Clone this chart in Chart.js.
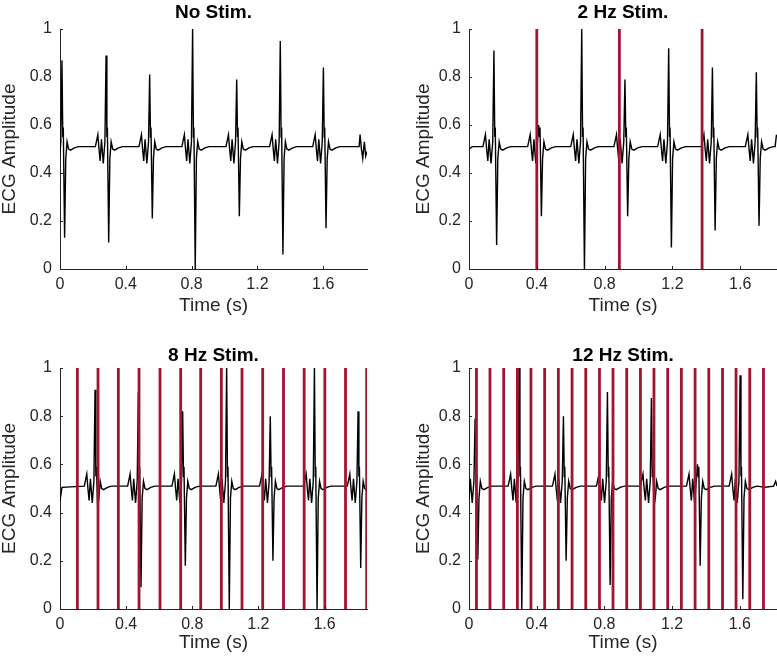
<!DOCTYPE html>
<html>
<head>
<meta charset="utf-8">
<script src="https://cdn.jsdelivr.net/npm/chart.js@4.4.0/dist/chart.umd.min.js"></script>
<style>
    html, body { margin: 0; padding: 0; background: #fff; }
    body { width: 777px; height: 660px; position: relative; overflow: hidden; }
    .panel { position: absolute; }
    .panel canvas { display: block; }
</style>
</head>
<body>
<div class="panel" style="left:0;top:0"><canvas id="noStimChart" width="388" height="330"></canvas></div>
<div class="panel" style="left:409px;top:0"><canvas id="stim2Chart" width="368" height="330"></canvas></div>
<div class="panel" style="left:0;top:330px"><canvas id="stim8Chart" width="388" height="330"></canvas></div>
<div class="panel" style="left:409px;top:330px"><canvas id="stim12Chart" width="368" height="330"></canvas></div>

<script>
const xTickValues = [0, 0.4, 0.8, 1.2, 1.6];
const yTickValues = [0, 0.2, 0.4, 0.6, 0.8, 1];

// QRS shape around each R peak: time offset (s) and level, R and S filled per beat
const qrsOffsets = [-0.065, -0.050, -0.043, -0.036, -0.028, -0.017, -0.007, 0, 0.005, 0.008, 0.016, 0.023, 0.031, 0.040, 0.052, 0.075, 0.100];
const qrsLevels = [0.51, 0.56, 0.50, 0.45, 0.54, 0.44, 0.53, null, 0.55, 0.59, null, 0.46, 0.53, 0.50, 0.495, 0.505, 0.51];
const qrsPeakIndex = 7;
const qrsTroughIndex = 10;

// No Stim.
const noStimBeats = [0.012, 0.280, 0.545, 0.806, 1.074, 1.339, 1.601];
const noStimPeaks = [0.87, 0.89, 0.81, 1.00, 0.79, 0.95, 0.84];
const noStimTroughs = [0.13, 0.11, 0.21, 0.00, 0.22, 0.06, 0.17];
const noStimLead = [];
const noStimTail = [[1.805, 0.51], [1.818, 0.51], [1.824, 0.56], [1.832, 0.50], [1.840, 0.46], [1.850, 0.53], [1.858, 0.47], [1.866, 0.49]];
const noStimPulses = [];

// 2 Hz Stim.
const stim2Beats = [0.147, 0.411, 0.665, 0.920, 1.178, 1.436, 1.695];
const stim2Peaks = [0.91, 0.60, 1.00, 0.79, 0.92, 0.84, 0.82];
const stim2Troughs = [0.10, 0.22, 0.00, 0.22, 0.09, 0.16, 0.18];
const stim2Lead = [[0, 0.50], [0.02, 0.51]];
const stim2Tail = [[1.806, 0.51], [1.814, 0.56]];
const stim2Pulses = [0.400, 0.887, 1.375];

// 8 Hz Stim.
const stim8Beats = [0.212, 0.474, 0.742, 1.008, 1.272, 1.539, 1.803];
const stim8Peaks = [0.91, 0.90, 0.82, 1.00, 0.80, 1.00, 0.82];
const stim8Troughs = [0.42, 0.09, 0.18, 0.00, 0.20, 0.00, 0.17];
const stim8Lead = [[0, 0.45], [0.012, 0.505]];
const stim8Tail = [];
const stim8Pulses = [0.105, 0.230, 0.353, 0.478, 0.605, 0.730, 0.851, 0.976, 1.101, 1.226, 1.352, 1.477, 1.602, 1.727, 1.855];

// 12 Hz Stim.
const stim12Beats = [0.036, 0.296, 0.558, 0.818, 1.078, 1.350, 1.602];
const stim12Peaks = [0.79, 1.00, 0.80, 0.90, 0.875, 0.60, 0.97];
const stim12Troughs = [0.205, 0.00, 0.20, 0.10, 0.43, 0.18, 0.04];
const stim12Lead = [];
const stim12Tail = [[1.75, 0.505], [1.80, 0.51], [1.812, 0.53], [1.820, 0.51]];
const stim12Pulses = [0.044, 0.124, 0.205, 0.286, 0.366, 0.447, 0.528, 0.609, 0.690, 0.771, 0.851, 0.932, 1.013, 1.093, 1.174, 1.255, 1.336, 1.417, 1.498, 1.578, 1.659, 1.740];

const fontFamily = "'Liberation Sans', Arial, Helvetica, sans-serif";
const axisColor = '#262626';

function buildTrace(lead, beats, peaks, troughs, tail) {
    const pts = lead.map(p => ({x: p[0], y: p[1]}));
    beats.forEach((t, i) => {
        qrsOffsets.forEach((dt, k) => {
            let y = qrsLevels[k];
            if (k === qrsPeakIndex) y = peaks[i];
            if (k === qrsTroughIndex) y = troughs[i];
            pts.push({x: t + dt, y: y});
        });
    });
    tail.forEach(p => pts.push({x: p[0], y: p[1]}));
    return pts;
}

function buildPulseLines(times) {
    const pts = [];
    times.forEach(t => {
        pts.push({x: t, y: 0}, {x: t, y: 1}, {x: t, y: null});
    });
    return pts;
}

// MATLAB style ticks pointing into the plot
const inwardTicks = {
    id: 'inwardTicks',
    afterDatasetsDraw(chart) {
        const {ctx, chartArea, scales} = chart;
        ctx.save();
        ctx.strokeStyle = axisColor;
        ctx.lineWidth = 1;
        ctx.beginPath();
        scales.x.ticks.forEach(tk => {
            const px = Math.round(scales.x.getPixelForValue(tk.value)) + 0.5;
            ctx.moveTo(px, chartArea.bottom);
            ctx.lineTo(px, chartArea.bottom - 3);
        });
        scales.y.ticks.forEach(tk => {
            const py = Math.round(scales.y.getPixelForValue(tk.value)) + 0.5;
            ctx.moveTo(chartArea.left, py);
            ctx.lineTo(chartArea.left + 3, py);
        });
        ctx.stroke();
        ctx.restore();
    }
};

const topRow = {titleTop: 3.5, titleBottom: 6.5, xHeight: 61, xTitleBottom: 14.5};
const bottomRow = {titleTop: 16, titleBottom: 3, xHeight: 51, xTitleBottom: 7.5};

function makePanel(id, title, trace, pulses, xMax, row, padRight, yTitleTop) {
    const datasets = [{
        data: trace,
        borderColor: '#000000',
        borderWidth: 1.4,
        pointRadius: 0,
        tension: 0,
        order: 1
    }];
    if (pulses.length) {
        datasets.push({
            data: buildPulseLines(pulses),
            borderColor: '#A2142F',
            borderWidth: 2.8,
            pointRadius: 0,
            order: 0
        });
    }

    new Chart(document.getElementById(id), {
        type: 'line',
        data: {datasets: datasets},
        options: {
            responsive: false,
            animation: false,
            events: [],
            layout: {padding: {left: 0, right: padRight, top: 0, bottom: 0}},
            plugins: {
                legend: {display: false},
                tooltip: {enabled: false},
                title: {
                    display: true,
                    text: title,
                    fullSize: false,
                    color: '#000000',
                    font: {family: fontFamily, size: 19, weight: 'bold', lineHeight: 1},
                    padding: {top: row.titleTop, bottom: row.titleBottom}
                }
            },
            scales: {
                x: {
                    type: 'linear',
                    min: 0,
                    max: xMax,
                    grid: {display: false, drawTicks: false},
                    border: {display: true, color: axisColor, width: 1},
                    afterBuildTicks: s => { s.ticks = xTickValues.map(v => ({value: v})); },
                    afterFit: s => { s.height = row.xHeight; },
                    ticks: {
                        color: axisColor,
                        font: {family: fontFamily, size: 16},
                        padding: 6,
                        maxRotation: 0,
                        autoSkip: false,
                        callback: v => String(v)
                    },
                    title: {
                        display: true,
                        text: 'Time (s)',
                        color: axisColor,
                        font: {family: fontFamily, size: 19, lineHeight: 1},
                        padding: {top: 0, bottom: row.xTitleBottom}
                    }
                },
                y: {
                    min: 0,
                    max: 1,
                    grid: {display: false, drawTicks: false},
                    border: {display: true, color: axisColor, width: 1},
                    afterBuildTicks: s => { s.ticks = yTickValues.map(v => ({value: v})); },
                    afterFit: s => { s.width = 60; },
                    ticks: {
                        color: axisColor,
                        font: {family: fontFamily, size: 16},
                        padding: 8,
                        autoSkip: false,
                        callback: v => String(v)
                    },
                    title: {
                        display: true,
                        text: 'ECG Amplitude',
                        color: axisColor,
                        font: {family: fontFamily, size: 19, lineHeight: 1},
                        padding: {top: yTitleTop, bottom: 0}
                    }
                }
            }
        },
        plugins: [inwardTicks]
    });
}

makePanel('noStimChart', 'No Stim.',
    buildTrace(noStimLead, noStimBeats, noStimPeaks, noStimTroughs, noStimTail),
    noStimPulses, 1.866, topRow, 21, 0.5);
makePanel('stim2Chart', '2 Hz Stim.',
    buildTrace(stim2Lead, stim2Beats, stim2Peaks, stim2Troughs, stim2Tail),
    stim2Pulses, 1.817, topRow, 0, 5.5);
makePanel('stim8Chart', '8 Hz Stim.',
    buildTrace(stim8Lead, stim8Beats, stim8Peaks, stim8Troughs, stim8Tail),
    stim8Pulses, 1.857, bottomRow, 21, 0.5);
makePanel('stim12Chart', '12 Hz Stim.',
    buildTrace(stim12Lead, stim12Beats, stim12Peaks, stim12Troughs, stim12Tail),
    stim12Pulses, 1.820, bottomRow, 0, 5.5);
</script>
</body>
</html>
